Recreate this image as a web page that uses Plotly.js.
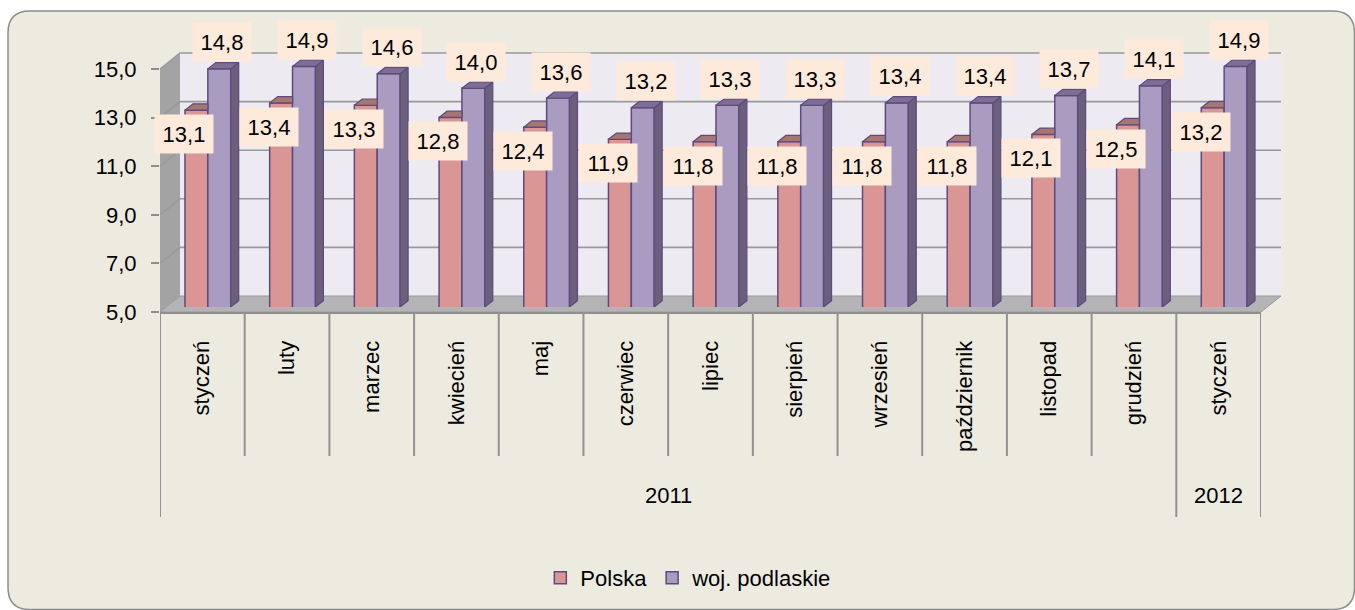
<!DOCTYPE html>
<html><head><meta charset="utf-8">
<script src="https://cdn.plot.ly/plotly-3.0.1.min.js"></script>
<style>html,body{margin:0;padding:0;background:#fff;}#chart{width:1355px;height:610px;}</style>
</head><body><div id="chart"></div>
<script>
// ---------- data ----------
const months = ['styczeń','luty','marzec','kwiecień','maj','czerwiec','lipiec','sierpień','wrzesień','październik','listopad','grudzień','styczeń'];
const yearOf = ['2011','2011','2011','2011','2011','2011','2011','2011','2011','2011','2011','2011','2012'];
const seriesNames = ['Polska','woj. podlaskie'];
const polska    = [13.1,13.4,13.3,12.8,12.4,11.9,11.8,11.8,11.8,11.8,12.1,12.5,13.2];
const podlaskie = [14.8,14.9,14.6,14.0,13.6,13.2,13.3,13.3,13.4,13.4,13.7,14.1,14.9];
const yTicks = [5,7,9,11,13,15];

// ---------- geometry / style ----------
const W=1355,H=610;
const FX0=160,FX1=1261,FYT=69,FYB=312;   // front plane of the 3D box (px)
const DX=20,DY=16;                        // depth offset of back wall (px)
const unitY=(FYB-FYT)/10;
const n=months.length;
const unitX=(FX1-FX0)/n;
const P=(x,y)=>`${x/W},${1-y/H}`;
const font='"Liberation Sans", Arial, sans-serif';
const FS=22;
const idx=months.map((_,i)=>i);
const fmt=v=>v.toFixed(1).replace('.',',');

const colPinkF='#D99694', colPinkT='#A87670';
const colPurF='#AA9BC1', colPurS='#6B5F7C', colPurT='#7E6E93';
const outline='#5E4A7E';

// bar subplot slightly shifted (bars sit inside the 3D depth)
const BSX=5.5, BSY=5;
const bBot=FYB-BSY, bTopVal=15.5;
const bTop=bBot-(bTopVal-5)*unitY;
const BW=0.27;
const dxU=8/unitX, dyU=6.3/unitY;

// ---------- traces ----------
const traces=[];
traces.push({type:'bar',name:seriesNames[0],x:idx,y:polska,xaxis:'x2',yaxis:'y2',
  marker:{color:colPinkF,line:{color:outline,width:1.5}},hoverinfo:'skip'});
traces.push({type:'bar',name:seriesNames[1],x:idx,y:podlaskie,xaxis:'x2',yaxis:'y2',
  marker:{color:colPurF,line:{color:outline,width:1.5}},hoverinfo:'skip'});

function poly(pointsList){
  const xs=[],ys=[];
  pointsList.forEach(pts=>{pts.forEach(p=>{xs.push(p[0]);ys.push(p[1]);});xs.push(pts[0][0]);ys.push(pts[0][1]);xs.push(null);ys.push(null);});
  return {xs,ys};
}
// pink top faces (visible part only)
const pinkTop=poly(polska.map((v,i)=>{const xl=i-BW,xr=i;return [[xl,v],[xl+dxU,v+dyU],[xr,v+dyU],[xr,v]];}));
traces.push({type:'scatter',mode:'lines',x:pinkTop.xs,y:pinkTop.ys,xaxis:'x2',yaxis:'y2',fill:'toself',
  fillcolor:colPinkT,line:{color:outline,width:1.2},showlegend:false,hoverinfo:'skip'});
// purple side faces
const purSide=poly(podlaskie.map((v,i)=>{const xr=i+BW;return [[xr,5],[xr+dxU,5+dyU],[xr+dxU,v+dyU],[xr,v]];}));
traces.push({type:'scatter',mode:'lines',x:purSide.xs,y:purSide.ys,xaxis:'x2',yaxis:'y2',fill:'toself',
  fillcolor:colPurS,line:{color:outline,width:1.2},showlegend:false,hoverinfo:'skip'});
// purple top faces
const purTop=poly(podlaskie.map((v,i)=>{const xl=i,xr=i+BW;return [[xl,v],[xl+dxU,v+dyU],[xr+dxU,v+dyU],[xr,v]];}));
traces.push({type:'scatter',mode:'lines',x:purTop.xs,y:purTop.ys,xaxis:'x2',yaxis:'y2',fill:'toself',
  fillcolor:colPurT,line:{color:outline,width:1.2},showlegend:false,hoverinfo:'skip'});

// ---------- shapes ----------
const shapes=[];
// outer rounded frame
const L=8,T=11,R=1354.5,B=609.5,r=22;
shapes.push({type:'path',xref:'paper',yref:'paper',layer:'below',
  path:`M ${P(L,B-r)} L ${P(L,T+r)} Q ${P(L,T)} ${P(L+r,T)} L ${P(R-r,T)} Q ${P(R,T)} ${P(R,T+r)} L ${P(R,B-r)} Q ${P(R,B)} ${P(R-r,B)} L ${P(L+r,B)} Q ${P(L,B)} ${P(L,B-r)} Z`,
  fillcolor:'#EDEBE0',line:{color:'#8C8C8C',width:1.5}});
// back wall
shapes.push({type:'path',xref:'paper',yref:'paper',layer:'below',
  path:`M ${P(FX0+DX,FYT-DY)} L ${P(FX1+DX,FYT-DY)} L ${P(FX1+DX,FYB-DY)} L ${P(FX0+DX,FYB-DY)} Z`,
  fillcolor:'#EDEBF1',line:{width:0}});
// left wall
shapes.push({type:'path',xref:'paper',yref:'paper',layer:'below',
  path:`M ${P(FX0,FYT)} L ${P(FX0+DX,FYT-DY)} L ${P(FX0+DX,FYB-DY)} L ${P(FX0,FYB)} Z`,
  fillcolor:'#A3A3A3',line:{width:0}});
// floor
shapes.push({type:'path',xref:'paper',yref:'paper',layer:'below',
  path:`M ${P(FX0,FYB)} L ${P(FX0+DX,FYB-DY)} L ${P(FX1+DX,FYB-DY)} L ${P(FX1,FYB)} Z`,
  fillcolor:'#B4B4B6',line:{color:'#9A9A9A',width:1}});
// gridlines on walls
yTicks.forEach(t=>{
  const yf=FYB-(t-5)*unitY;
  if(t>5){
    shapes.push({type:'path',xref:'paper',yref:'paper',layer:'below',
      path:`M ${P(FX0,yf)} L ${P(FX0+DX,yf-DY)} L ${P(FX1+DX,yf-DY)}`,line:{color:'#999999',width:1.6}});
  }
});
// category dividers
for(let k=0;k<=n;k++){
  const isYearEdge = k===0 || k===n || yearOf[k]!==yearOf[k-1];
  shapes.push({type:'line',xref:'x',yref:'paper',x0:k-0.5,x1:k-0.5,y0:1-FYB/H,y1:1-(isYearEdge?517:456)/H,
    line:{color:'#929292',width:2}});
}

// ---------- annotations ----------
const annotations=[];
polska.forEach((v,i)=>annotations.push({xref:'x2',yref:'y2',x:i-BW/2,y:v,xshift:-12,yshift:-24,
  xanchor:'center',yanchor:'middle',text:fmt(v),showarrow:false,bgcolor:'#FDEADA',
  width:46,height:26,borderpad:6,font:{family:font,size:FS,color:'#000'}}));
podlaskie.forEach((v,i)=>annotations.push({xref:'x2',yref:'y2',x:i+BW/2,y:v,xshift:3,yshift:26.5,
  xanchor:'center',yanchor:'middle',text:fmt(v),showarrow:false,bgcolor:'#FDEADA',
  width:46,height:26,borderpad:6,font:{family:font,size:FS,color:'#000'}}));
// year group labels
let s=0;
for(let k=1;k<=n;k++){
  if(k===n || yearOf[k]!==yearOf[k-1]){
    annotations.push({xref:'x',yref:'paper',x:(s+k-1)/2,y:1-495/H,text:yearOf[s],showarrow:false,
      xanchor:'center',yanchor:'middle',font:{family:font,size:FS,color:'#000'}});
    s=k;
  }
}

// ---------- layout ----------
const layout={
  width:W,height:H,
  margin:{l:0,r:0,t:0,b:0,autoexpand:false},
  paper_bgcolor:'#FFFFFF',plot_bgcolor:'rgba(0,0,0,0)',
  separators:',.',
  font:{family:font,size:FS,color:'#000'},
  barmode:'group',bargap:1-2*BW,bargroupgap:0,
  showlegend:true,
  legend:{orientation:'h',x:0.508,xanchor:'center',y:1-578/H,yanchor:'middle',
    bgcolor:'rgba(0,0,0,0)',font:{family:font,size:FS,color:'#000'},itemwidth:30,traceorder:'normal'},
  xaxis:{domain:[FX0/W,FX1/W],range:[-0.5,n-0.5],anchor:'y',tickmode:'array',tickvals:idx,ticktext:months,
    tickangle:-90,ticks:'',ticklabelstandoff:18,showgrid:false,zeroline:false,showline:true,
    linecolor:'#8E8E8E',linewidth:2,tickfont:{family:font,size:FS,color:'#000'},fixedrange:true},
  yaxis:{domain:[1-FYB/H,1-FYT/H],range:[5,15],anchor:'x',tickmode:'array',tickvals:yTicks,
    tickformat:'.1f',ticks:'outside',ticklen:8,tickwidth:2,tickcolor:'#8E8E8E',ticklabelstandoff:10,
    showgrid:false,zeroline:false,showline:false,tickfont:{family:font,size:FS,color:'#000'},fixedrange:true},
  xaxis2:{domain:[(FX0+BSX)/W,(FX1+BSX)/W],range:[-0.5,n-0.5],anchor:'y2',visible:false,fixedrange:true},
  yaxis2:{domain:[1-bBot/H,1-bTop/H],range:[5,bTopVal],anchor:'x2',visible:false,fixedrange:true},
  shapes:shapes,annotations:annotations
};
Plotly.newPlot('chart',traces,layout,{staticPlot:true,displayModeBar:false});
</script></body></html>
